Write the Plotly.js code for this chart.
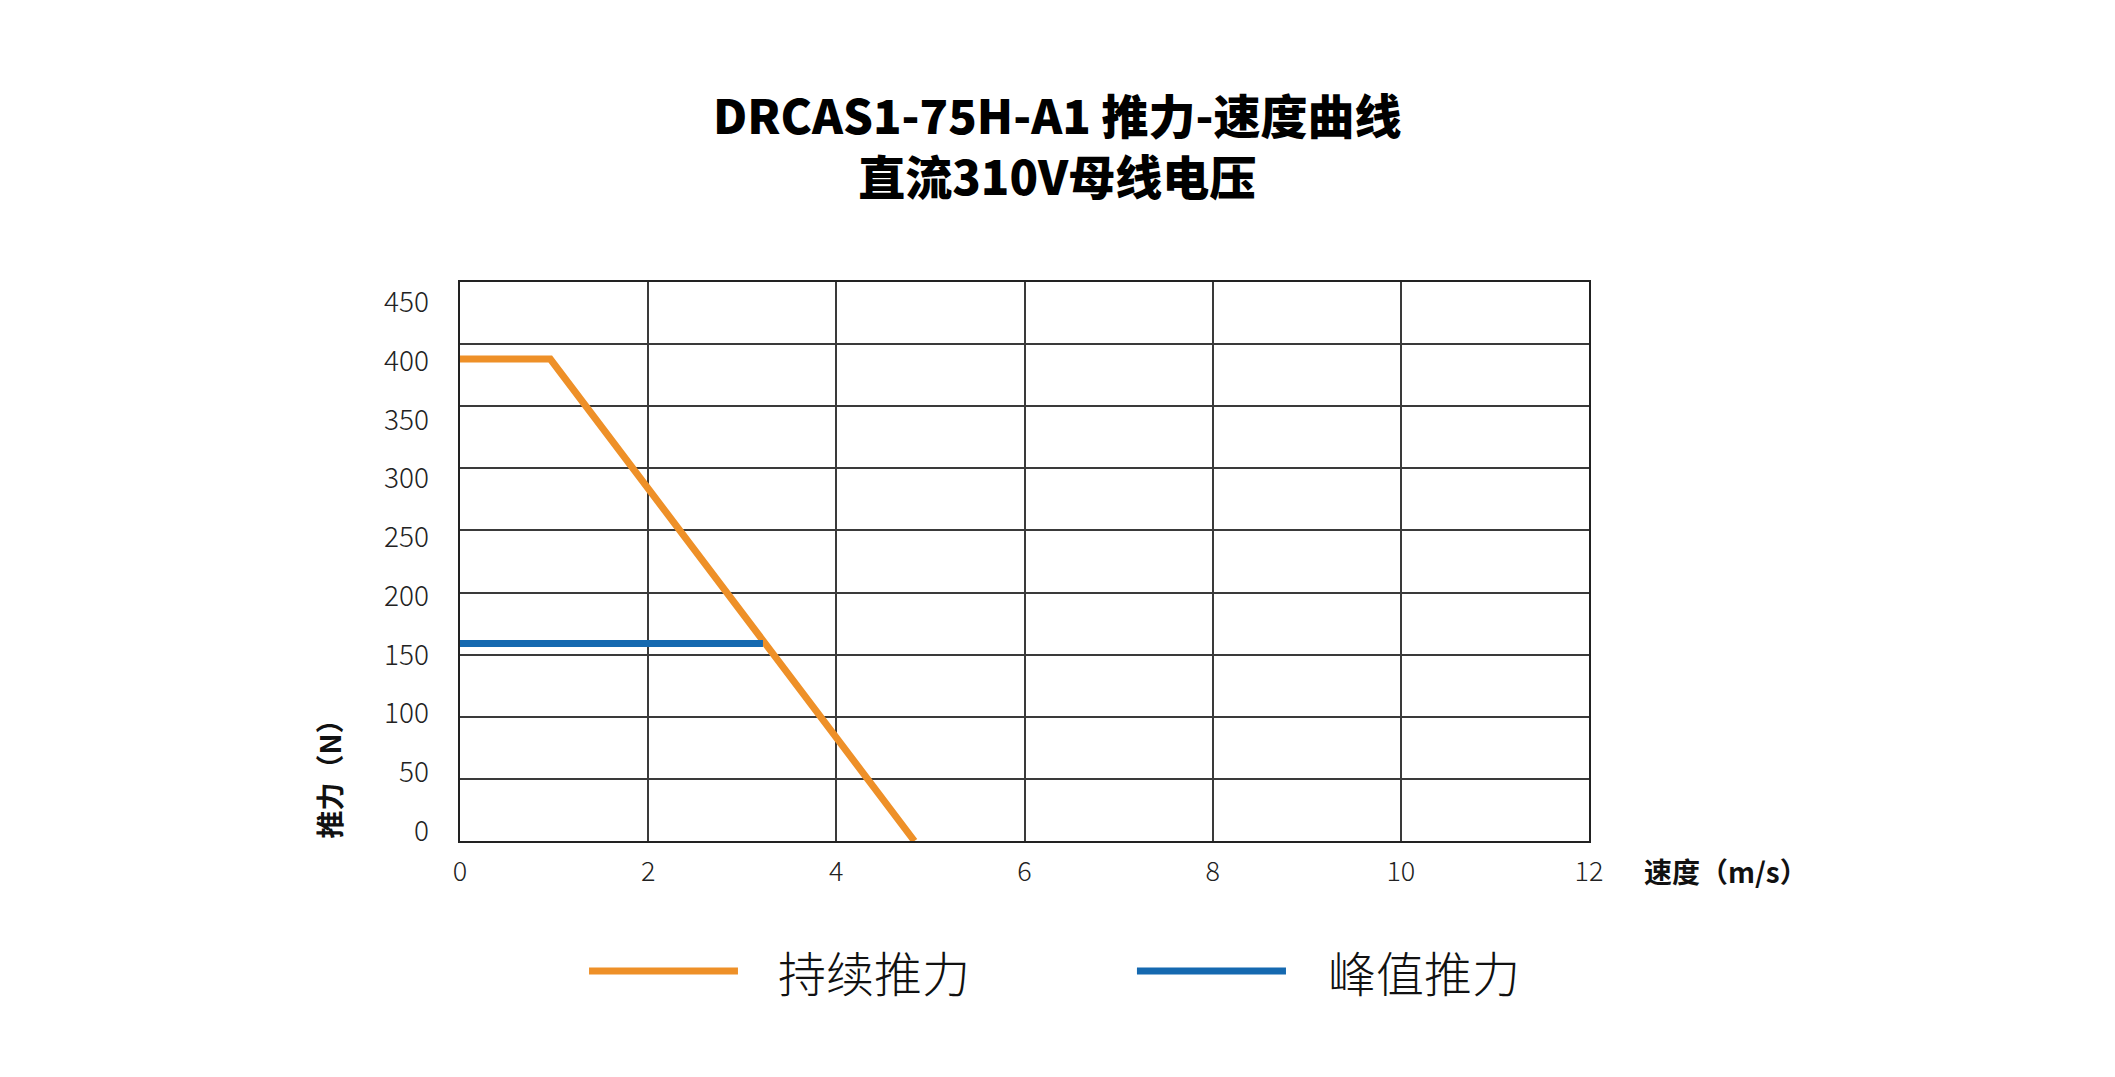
<!DOCTYPE html>
<html>
<head>
<meta charset="utf-8">
<script src="https://cdn.plot.ly/plotly-3.0.1.min.js"></script>
<style>html,body{margin:0;padding:0;background:#fff;}#chart{width:2115px;height:1077px;}</style>
</head>
<body>
<div id="chart"></div>
<script>
// Data
const titleLines = ['DRCAS1-75H-A1 推力-速度曲线', '直流310V母线电压'];
const seriesNames = ['持续推力', '峰值推力'];
const contSpeed = [0, 0.96, 4.83];
const contForce = [388, 388, 0];
const peakSpeed = [0, 3.22];
const peakForce = [159, 159];
const xTicks = [0, 2, 4, 6, 8, 10, 12];
const yTicks = [0, 50, 100, 150, 200, 250, 300, 350, 400, 450];
const colors = ['#EE9028', '#1569B0'];

const cjk = '"Noto Sans CJK SC", "Noto Sans", sans-serif';

const traces = [
  {x: contSpeed, y: contForce, name: seriesNames[0], mode: 'lines', type: 'scatter',
   line: {color: colors[0], width: 7}, showlegend: false, cliponaxis: false},
  {x: peakSpeed, y: peakForce, name: seriesNames[1], mode: 'lines', type: 'scatter',
   line: {color: colors[1], width: 7}, showlegend: false, cliponaxis: false},
  // invisible carrier trace for the tick-label axis (labels in the reference sit on a slightly compressed scale)
  {x: [0], y: [0], yaxis: 'y2', mode: 'markers', marker: {opacity: 0}, showlegend: false, hoverinfo: 'skip'}
];

// custom legend (line swatches + labels) positioned in paper space
const legendX = [[0.1143, 0.2462, 0.2799], [0.5996, 0.7316, 0.767]];
const legendY = -0.2326;
const shapes = [];
const annotations = [];
seriesNames.forEach((n, i) => {
  shapes.push({type: 'line', xref: 'paper', yref: 'paper',
    x0: legendX[i][0], x1: legendX[i][1], y0: legendY, y1: legendY,
    line: {color: colors[i], width: 7}});
  annotations.push({xref: 'paper', yref: 'paper', x: legendX[i][2], y: legendY,
    xanchor: 'left', yanchor: 'middle', showarrow: false, text: n,
    font: {family: cjk, size: 48, color: '#111', weight: 300}});
});
// two-line title as a single text block centred at y = 144 px
annotations.push({xref: 'paper', yref: 'paper', x: (1057.5 - 460) / 1129, y: (841 - 144) / 559,
  xanchor: 'center', yanchor: 'middle', borderpad: 0, showarrow: false, text: titleLines.join('<br>'),
  font: {family: cjk, size: 47, color: '#000', weight: 900}});
annotations.push({xref: 'paper', yref: 'paper', x: -0.1169, y: 0, xanchor: 'center', yanchor: 'bottom',
  textangle: -90, showarrow: false, text: '推力（N）',
  font: {family: cjk, size: 28, color: '#111', weight: 700}});
annotations.push({xref: 'paper', yref: 'paper', x: 1.047, y: -0.0537, xanchor: 'left', yanchor: 'middle',
  showarrow: false, text: '速度（m/s）',
  font: {family: cjk, size: 28, color: '#111', weight: 700}});

const layout = {
  width: 2115, height: 1077,
  paper_bgcolor: '#fff', plot_bgcolor: '#fff',
  margin: {l: 460, r: 526, t: 282, b: 236},
  xaxis: {range: [0, 12], tickvals: xTicks, ticktext: xTicks.map(String),
    showgrid: true, gridcolor: '#3a3a3a', gridwidth: 2,
    showline: true, mirror: true, linecolor: '#222', linewidth: 2,
    zeroline: false, ticks: '', ticklabelstandoff: 6,
    tickfont: {family: cjk, size: 27, color: '#222', weight: 300}},
  yaxis: {range: [0, 450], tickvals: yTicks, showticklabels: false,
    showgrid: true, gridcolor: '#3a3a3a', gridwidth: 2,
    showline: true, mirror: true, linecolor: '#222', linewidth: 2,
    zeroline: false, ticks: ''},
  yaxis2: {overlaying: 'y', side: 'left', range: [-8.51, 467.46],
    tickvals: yTicks, ticktext: yTicks.map(String),
    showgrid: false, showline: false, zeroline: false, ticks: '', ticklabelstandoff: 30,
    tickfont: {family: cjk, size: 28, color: '#222', weight: 300}},
  shapes: shapes,
  annotations: annotations,
  showlegend: false
};

Plotly.newPlot('chart', traces, layout, {displayModeBar: false, staticPlot: true});
</script>
</body>
</html>
